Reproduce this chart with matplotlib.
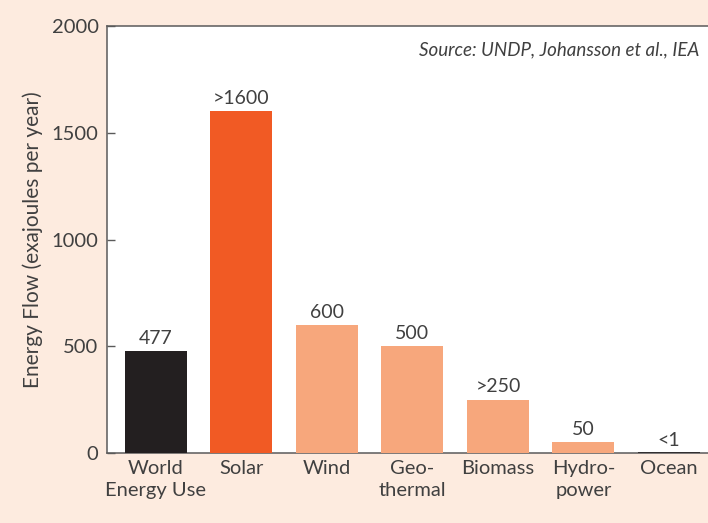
import matplotlib.pyplot as plt

# data
categories = ['World\nEnergy Use', 'Solar', 'Wind', 'Geo-\nthermal',
              'Biomass', 'Hydro-\npower', 'Ocean']
values = [477, 1600, 600, 500, 250, 50, 1]
value_labels = ['477', '>1600', '600', '500', '>250', '50', '<1']
y_ticks = [0, 500, 1000, 1500, 2000]

# colours
bg_color = '#fdebdf'
text_color = '#404040'
spine_color = '#5a5a5a'
bar_colors = ['#231f20', '#f15a24', '#f7a77c', '#f7a77c',
              '#f7a77c', '#f7a77c', '#231f20']

plt.rcParams['font.family'] = ['Lato', 'DejaVu Sans']


def make_plot():
    """
    Builds the bar chart of renewable energy flows.
    """
    fig = plt.figure(figsize=(7.08, 5.23), dpi=100, facecolor=bg_color)
    ax = fig.add_axes([0.151, 0.1338, 0.849, 0.8165])
    ax.set_facecolor('white')

    x = range(len(categories))
    bars = ax.bar(x, values, width=0.725, color=bar_colors, zorder=3)
    # the ocean bar is only a hairline
    bars[-1].set_edgecolor('#231f20')
    bars[-1].set_linewidth(1.2)

    for rect, label in zip(bars, value_labels):
        ax.annotate(label, (rect.get_x() + rect.get_width() / 2, rect.get_height()),
                    xytext=(0, 3), textcoords='offset points',
                    ha='center', va='bottom', fontsize=14, color=text_color)

    ax.set_xlim(-0.573, 6.456)
    ax.set_ylim(0, 2000)
    ax.set_yticks(y_ticks)
    ax.set_xticks(list(x))
    ax.set_xticklabels(categories, fontsize=14.5, color=text_color,
                       linespacing=1.35)
    ax.tick_params(axis='x', length=0, pad=5)
    ax.tick_params(axis='y', direction='in', length=6, width=1,
                   color=spine_color, labelsize=14.5, labelcolor=text_color, pad=6)

    for side in ['left', 'top', 'bottom']:
        ax.spines[side].set_color(spine_color)
        ax.spines[side].set_linewidth(1.1)
    ax.spines['right'].set_visible(False)

    ax.set_ylabel('Energy Flow (exajoules per year)', fontsize=15,
                  color=text_color, labelpad=6)

    ax.text(0.985, 0.945, 'Source: UNDP, Johansson et al., IEA',
            transform=ax.transAxes, ha='right', va='center',
            fontsize=13.5, style='italic', color=text_color)

    fig.savefig('out.png', dpi=100, facecolor=bg_color)


if __name__ == '__main__':
    make_plot()
